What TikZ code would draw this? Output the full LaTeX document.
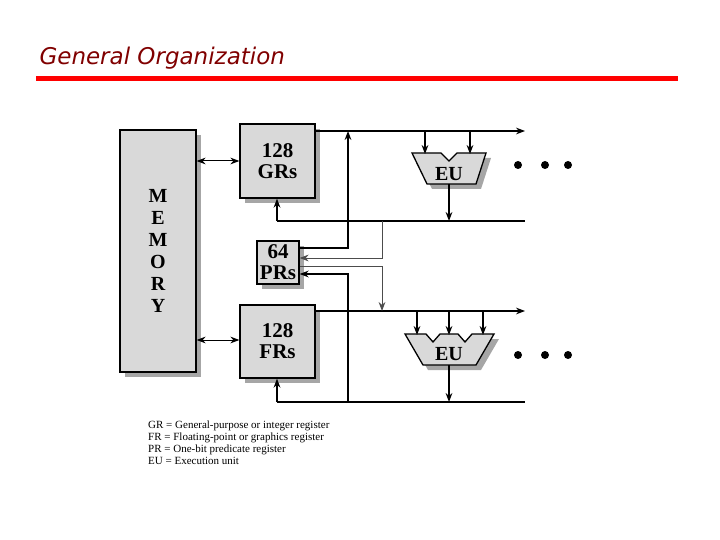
\documentclass[tikz,border=0pt]{standalone}
\usepackage{fontspec}
\setmainfont{Liberation Serif}
\newfontfamily\titlefont{DejaVu Sans}
\usetikzlibrary{positioning,arrows.meta,shadows}
\definecolor{boxgray}{RGB}{217,217,217}
\definecolor{titlered}{RGB}{128,0,0}
\begin{document}
\begin{tikzpicture}[x=1pt,y=-1pt,
  reg/.style={draw,line width=1.3pt,fill=boxgray,drop shadow={shadow xshift=5pt,shadow yshift=-5pt,fill=gray!70,opacity=1},font=\bfseries\fontsize{21}{21}\selectfont,align=center,inner sep=0pt},
  bus/.style={line width=1.3pt,-{Stealth[length=9pt]}},
  gbus/.style={gray!60!black,line width=0.9pt,-{Stealth[length=9pt]}},
  dot/.style={fill=black,circle,inner sep=0pt,minimum size=8pt}]
  \useasboundingbox (0,0) rectangle (720,540);
  % title
  \node[anchor=west,text=titlered,font=\titlefont\itshape\fontsize{23}{23}\selectfont] (title) at (36,58) {General Organization};
  \fill[red] (36,76) rectangle (678,81);
  % registers and memory
  \node[reg,minimum width=76,minimum height=242,font=\bfseries\fontsize{20}{22}\selectfont] (mem) at (158,251) {M\\E\\M\\O\\R\\Y};
  \node[reg,minimum width=75,minimum height=74] (gr) at (277.5,161) {128\\GRs};
  \node[reg,minimum width=42,minimum height=43] (pr) at (278,262.5) {64\\PRs};
  \node[reg,minimum width=75,minimum height=73] (fr) at (277.5,341.5) {128\\FRs};
  % execution units
  \draw[line width=1.3pt,fill=boxgray,drop shadow={shadow xshift=5pt,shadow yshift=-5pt,fill=gray!70,opacity=1}]
    (412,153) -- (441,153) -- (449,161) -- (457,153) -- (486,153) -- (476,184) -- (427,184) -- cycle;
  \node[font=\bfseries\fontsize{20}{20}\selectfont] (eu1) at (449,174) {EU};
  \draw[line width=1.3pt,fill=boxgray,drop shadow={shadow xshift=5pt,shadow yshift=-5pt,fill=gray!70,opacity=1}]
    (405,334) -- (426,334) -- (433,342) -- (440,334) -- (458,334) -- (465,342) -- (472,334) -- (494,334) -- (476,365) -- (423,365) -- cycle;
  \node[font=\bfseries\fontsize{20}{20}\selectfont] (eu2) at (449,354) {EU};
  % buses
  \coordinate (gend) at (525,131);
  \coordinate (fend) at (525,311);
  \coordinate (gret) at (277,221);
  \coordinate (fret) at (277,402);
  \draw[bus] (gr.east |- gend) -- (gend);
  \draw[bus] (fr.east |- fend) -- (fend);
  \draw[line width=1.3pt] (gret) -- (525,221);
  \draw[line width=1.3pt] (fret) -- (525,402);
  \draw[bus] (gret) -- (gret |- gr.south);
  \draw[bus] (fret) -- (fret |- fr.south);
  \draw[line width=1pt,{Stealth[length=9pt]}-{Stealth[length=9pt]}] (mem.east |- 0,161) -- (gr.west |- 0,161);
  \draw[line width=1pt,{Stealth[length=9pt]}-{Stealth[length=9pt]}] (mem.east |- 0,340) -- (fr.west |- 0,340);
  \foreach \x in {425,470} \draw[bus] (\x,131) -- (\x,154);
  \foreach \x in {417,449,483} \draw[bus] (\x,311) -- (\x,335);
  \draw[bus] (449,184) -- (449,221);
  \draw[bus] (449,365) -- (449,402);
  % predicate paths
  \draw[bus] (pr.east |- 0,248) -- (348,248) -- (348,131);
  \draw[gbus] (382,221) -- (382,258) -- (pr.east |- 0,258);
  \draw[gbus] (pr.east |- 0,266) -- (382,266) -- (382,311);
  \draw[bus] (348,402) -- (348,274) -- (pr.east |- 0,274);
  % dots
  \foreach \x in {518,545,568} {\node[dot] at (\x,165) {}; \node[dot] at (\x,355) {};}
  % legend
  \node[anchor=north west,align=left,font=\fontsize{11}{12}\selectfont,inner sep=0pt] (legend) at (148,421)
    {GR = General-purpose or integer register\\FR = Floating-point or graphics register\\PR = One-bit predicate register\\EU = Execution unit};
\end{tikzpicture}
\end{document}
